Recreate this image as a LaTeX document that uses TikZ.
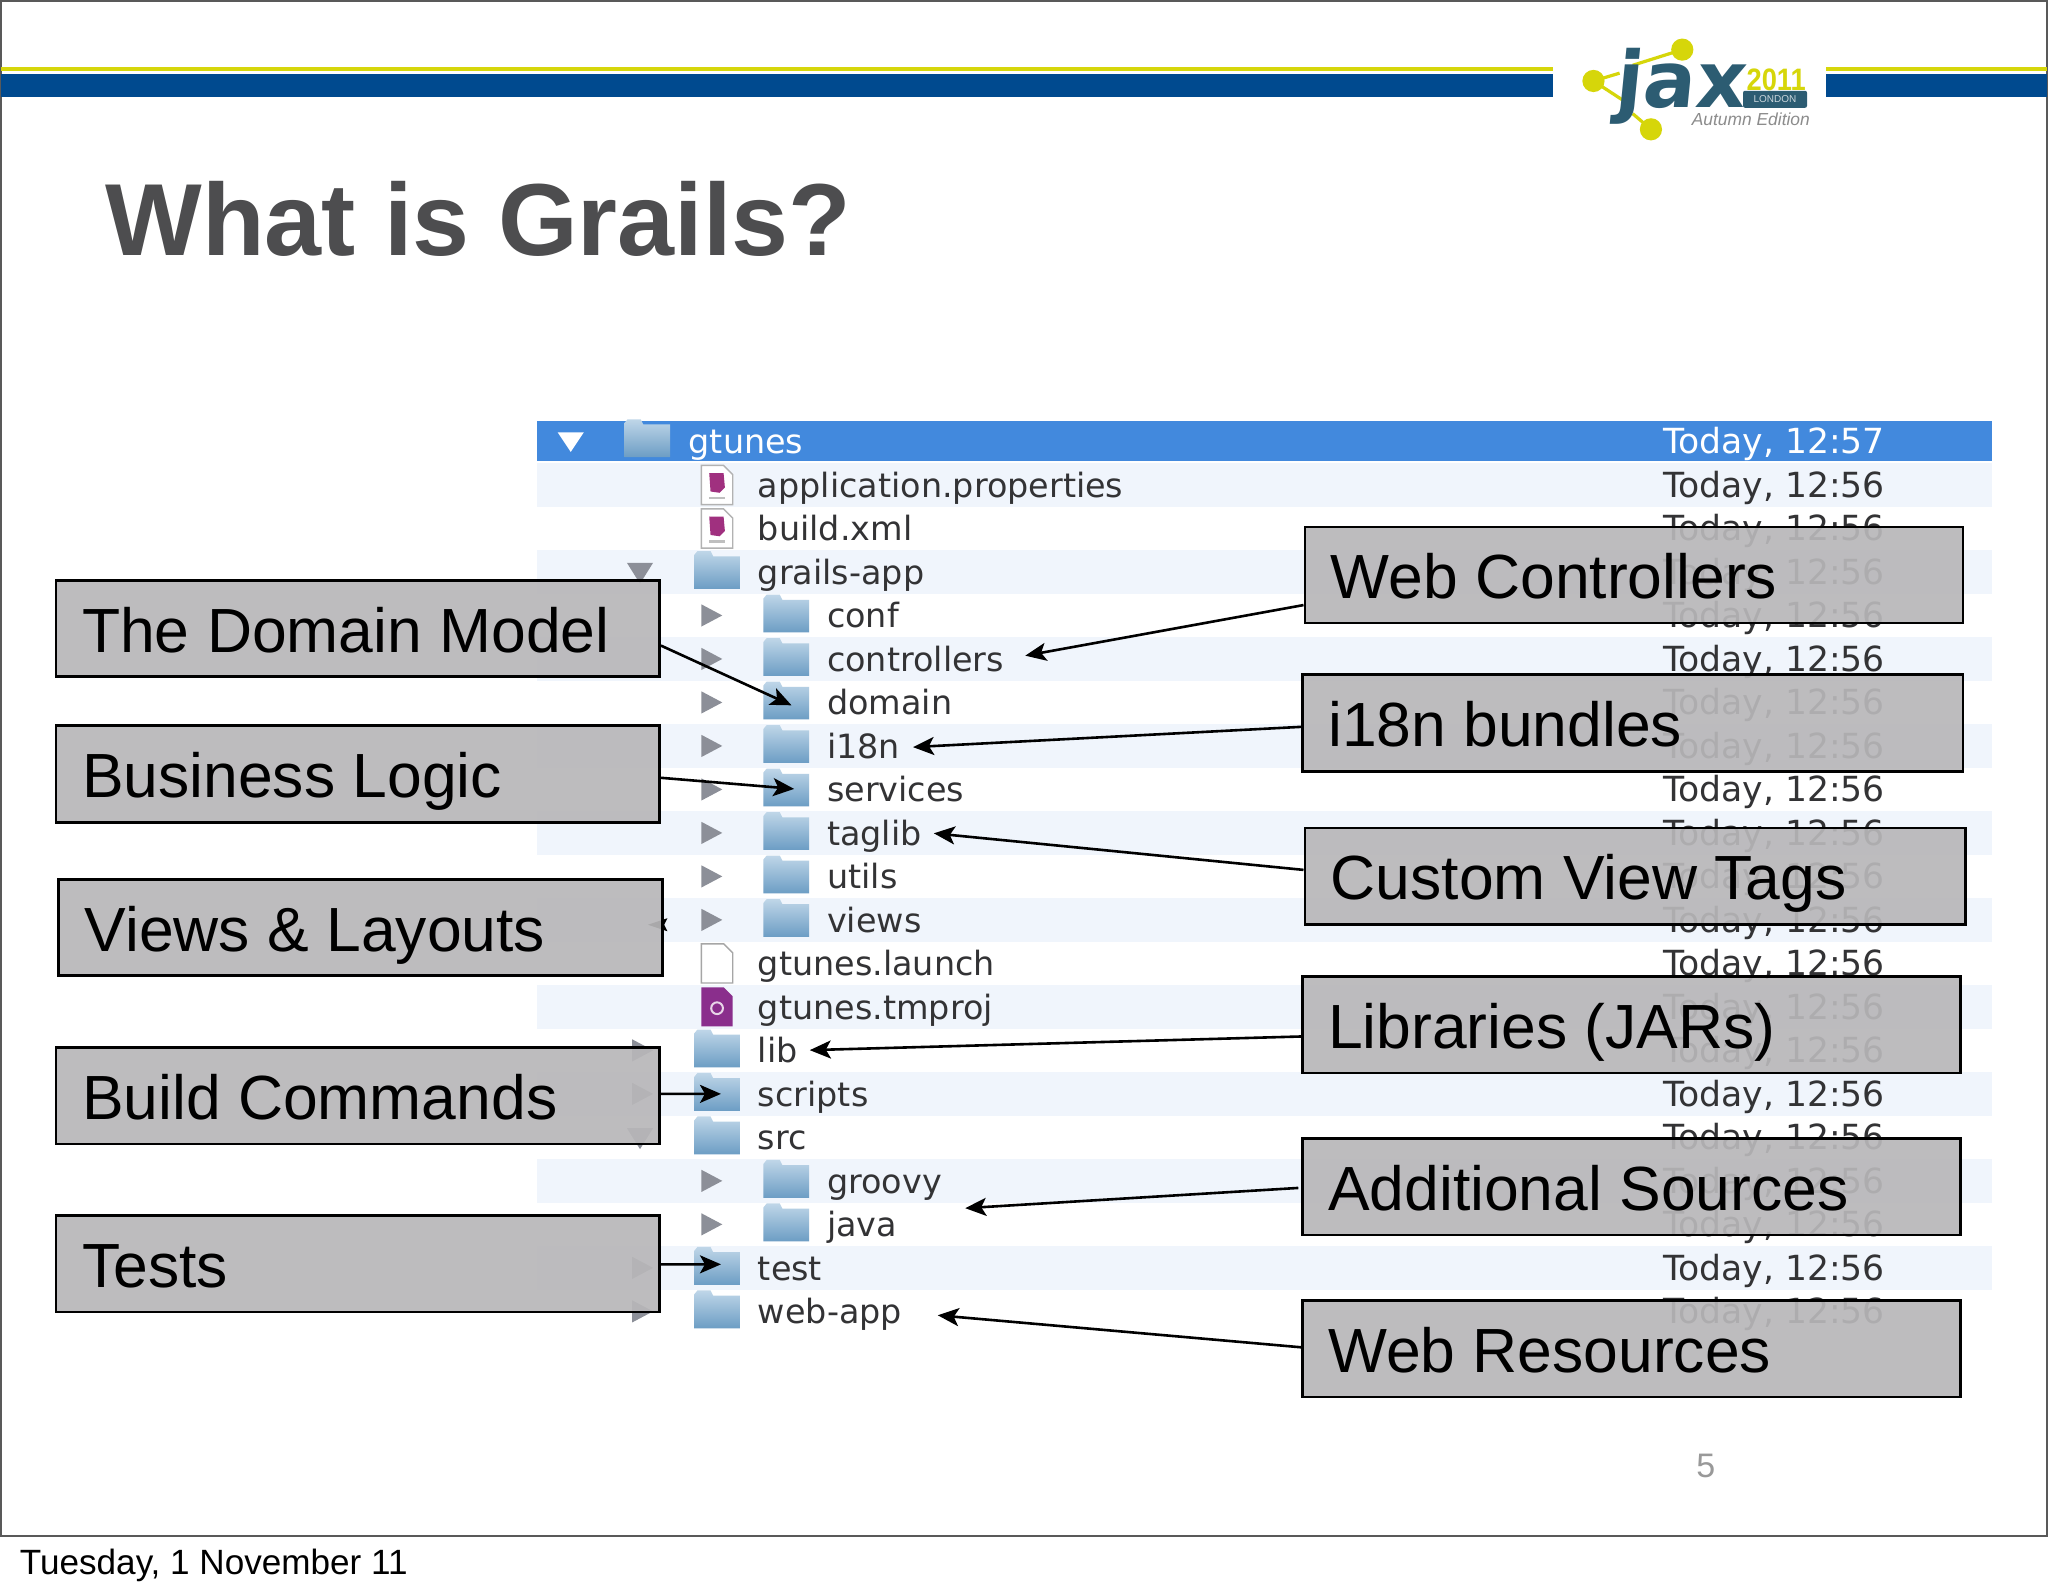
\documentclass[tikz,border=0pt]{standalone}
\usepackage{fontspec}
\setmainfont{Liberation Sans}
\newfontfamily\treefont{DejaVu Sans}
\newfontfamily\logofont{DejaVu Sans}
\usetikzlibrary{arrows.meta}
\definecolor{barblue}{HTML}{004A8F}
\definecolor{baryel}{HTML}{D6D60A}
\definecolor{selblue}{HTML}{4289DD}
\definecolor{stripe}{HTML}{F0F5FC}
\definecolor{boxgray}{HTML}{B8B7B9}
\definecolor{titlegray}{HTML}{4D4D4F}
\definecolor{treetxt}{HTML}{333335}
\definecolor{tri}{HTML}{8C8F98}
\definecolor{logoteal}{HTML}{2C5C72}
\definecolor{foldertop}{HTML}{BFD6E8}
\definecolor{folderlow}{HTML}{6C9DC4}
\definecolor{pinkfile}{HTML}{A0307F}
\definecolor{purplefile}{HTML}{8A2E8C}
\tikzset{
  boxlab/.style={draw=black,line width=1.3pt,fill=boxgray,fill opacity=0.92,text opacity=1,draw opacity=1,
    inner xsep=13pt,inner ysep=0pt,align=left,text height=25.3pt,text depth=1.8pt,
    font=\fontsize{31.2pt}{36pt}\selectfont,text=black},
  arr/.style={line width=1.3pt,draw=black,-{Stealth[length=10.5pt,width=9pt,inset=2.5pt]}},
  treetext/.style={anchor=base west,inner sep=0pt,font=\treefont\fontsize{16.7pt}{20pt}\selectfont,text=treetxt},
  datetext/.style={anchor=base west,inner sep=0pt,font=\treefont\fontsize{17.3pt}{20pt}\selectfont,text=treetxt},
  pics/folderic/.style={code={
    \path[top color=foldertop,bottom color=folderlow]
      (-17.5,13) -- (-17.5,-13) -- (-15,-16) -- (-5,-16) -- (-3,-12) -- (17.5,-12) -- (17.5,13) -- cycle;
  }},
  pics/pageic/.style={code={
    \path[fill=white,draw=black!35,line width=0.7pt]
      (-12,15) -- (-12,-15) -- (5,-15) -- (12,-8) -- (12,15) -- cycle;
  }},
  pics/pinkic/.style={code={
    \path[fill=white,draw=black!30,line width=0.7pt]
      (-12,15) -- (-12,-15) -- (5,-15) -- (12,-8) -- (12,15) -- cycle;
    \path[fill=pinkfile] (-6,-9) -- (5,-9) -- (6,2) -- (2,6) -- (-5,5) -- cycle;
    \path[fill=black!25] (-6,9) rectangle (6,11);
  }},
  pics/purpleic/.style={code={
    \path[fill=purplefile] (-12,15) -- (-12,-15) -- (5,-15) -- (12,-8) -- (12,15) -- cycle;
    \path[draw=white!80!purplefile,line width=1pt] (0,1) circle (4.5);
  }},
}
\newcommand{\labbox}[6]{%
  \pgfmathsetmacro{\lbw}{(#4-#2)*0.653}%
  \pgfmathsetmacro{\lbh}{(#5-#3)*0.653}%
  \pgfmathsetmacro{\lbt}{(#4-#2)*0.653-26}%
  \node[boxlab,text width=\lbt pt,minimum width=\lbw pt,minimum height=\lbh pt] (#1) at ({(#2+#4)/2},{(#3+#5)/2}) {\spaceskip=8.7pt\relax #6};%
}
\begin{document}
\begin{tikzpicture}[x=0.653pt,y=-0.653pt]
\useasboundingbox (0,0) rectangle (1568,1219.7);
\fill[white] (0,0) rectangle (1568,1219.7);
% slide frame
\draw[draw=black!65,line width=0.9pt] (0.5,0.7) rectangle (1567.4,1176);
% header bars
\fill[baryel] (1,51.5) rectangle (1189,54);
\fill[baryel] (1398,51.5) rectangle (1567,54);
\fill[barblue] (1,57) rectangle (1189,74);
\fill[barblue] (1398,57) rectangle (1567,74);
% logo
\draw[baryel,line width=1.6pt] (1288,38) -- (1250,50);
\draw[baryel,line width=1.6pt] (1220,62) -- (1240,56);
\draw[baryel,line width=1.6pt] (1220,62) -- (1246,79);
\draw[baryel,line width=1.6pt] (1264,99) -- (1250,87);
\fill[baryel] (1288,38) circle (8.5);
\fill[baryel] (1220,62) circle (8.5);
\fill[baryel] (1264,99) circle (8.5);
\node[anchor=base west,inner sep=0pt,text=logoteal,xslant=0.1,font=\logofont\bfseries\fontsize{39pt}{40pt}\selectfont] (jax) at (1236,82) {jax};
\node[anchor=base west,inner sep=0pt,text=baryel,font=\bfseries\fontsize{15.5pt}{16pt}\selectfont,xscale=0.88] (yr) at (1337,69) {2011};
\node[anchor=center,fill=logoteal,rounded corners=1pt,minimum width=32pt,minimum height=8.5pt,inner sep=0pt,text=white!75!logoteal,font=\fontsize{5pt}{6pt}\selectfont] (ldn) at (1359,76) {LONDON};
\node[anchor=base west,inner sep=0pt,text=black!45,font=\itshape\fontsize{8.7pt}{9pt}\selectfont] (aut) at (1295,96) {Autumn Edition};
% title
\node[anchor=base west,inner sep=0pt,text=titlegray,font=\bfseries\fontsize{51.2pt}{56pt}\selectfont] (title) at (80.5,195.5) {What is Grails?};
% table stripes
\foreach \i in {1,3,...,19}{
  \fill[stripe] (411.5,{338+33.3*\i-16.6}) rectangle (1525,{338+33.3*\i+16.6});
}
\fill[selblue] (411.5,322) rectangle (1525,353);
% disclosure triangles
\fill[white] (427,331) -- (447,331) -- (437,346) -- cycle;
\foreach \i in {4,...,11,17,18}{
  \fill[tri] (537,{338+33.3*\i-8.5}) -- (553,{338+33.3*\i}) -- (537,{338+33.3*\i+8.5}) -- cycle;
}
\foreach \i in {14,15,19,20}{
  \fill[tri] (484,{338+33.3*\i-8.5}) -- (500,{338+33.3*\i}) -- (484,{338+33.3*\i+8.5}) -- cycle;
}
\foreach \i in {3,16}{
  \fill[tri] (480,{338+33.3*\i-7}) -- (500,{338+33.3*\i-7}) -- (490,{338+33.3*\i+9}) -- cycle;
}
% icons
\pic at (495.5,337) {folderic};
\foreach \i in {3,14,15,16,19,20}{ \pic at (549,{338+33.3*\i}) {folderic}; }
\foreach \i in {4,...,11,17,18}{ \pic at (602,{338+33.3*\i}) {folderic}; }
\pic at (549,371.3) {pinkic};
\pic at (549,404.6) {pinkic};
\pic at (549,737.6) {pageic};
\pic at (549,770.9) {purpleic};
% row texts
\node[treetext,text=white] (row0) at (527,347.5) {gtunes};
\foreach \i/\x/\t in {1/580/application.properties,2/580/build.xml,3/580/grails-app,4/633/conf,5/633/controllers,6/633/domain,7/633/i18n,8/633/services,9/633/taglib,10/633/utils,11/633/views,12/580/gtunes.launch,13/580/gtunes.tmproj,14/580/lib,15/580/scripts,16/580/src,17/633/groovy,18/633/java,19/580/test,20/580/web-app}{
  \node[treetext] (row\i) at (\x,{347.5+33.3*\i}) {\t};
}
\node[datetext,text=white] (date0) at (1273,347.5) {Today, 12:57};
\foreach \i in {1,...,20}{
  \node[datetext] (date\i) at (1273,{347.5+33.3*\i}) {Today, 12:56};
}
% arrow ends
\coordinate (tdomain) at (606,540);
\coordinate (tservices) at (608,604);
\coordinate (tcontrollers) at (785,502);
\coordinate (ti18n) at (699,572);
\coordinate (ttaglib) at (715,638);
\coordinate (tlib) at (620,804);
\coordinate (tsrc) at (739,925);
\coordinate (twebapp) at (718,1007);
\coordinate (tscripts) at (552,837.5);
\coordinate (ttest) at (552,968);
% arrowhead lying behind the Views box
\fill[black] (496,708) -- (511,703) -- (508.5,708) -- (511,713) -- cycle;
% label boxes
\labbox{bdomain}{43}{444.5}{505}{518}{The Domain Model}
\labbox{blogic}{43}{555.5}{505}{629.5}{Business Logic}
\labbox{bviews}{45}{673.5}{507}{747}{Views \& Layouts}
\labbox{bbuild}{43}{802}{505}{876}{Build Commands}
\labbox{btests}{43}{930.5}{505}{1004.5}{Tests}
\labbox{bweb}{999}{403.5}{1503}{477}{Web Controllers}
\labbox{bi18n}{997}{516.5}{1503}{590.5}{i18n bundles}
\labbox{bcustom}{999}{634}{1505}{708}{Custom View Tags}
\labbox{blibs}{997}{747.5}{1501}{821.5}{Libraries (JARs)}
\labbox{bsrc}{997}{871.5}{1501}{945.5}{Additional Sources}
\labbox{bres}{997}{995.5}{1501}{1069.5}{Web Resources}
% connectors
\draw[arr] (bdomain.east) ++(0,13) -- (tdomain);
\draw[arr] (blogic.east) ++(0,3) -- (tservices);
\draw[arr] (bweb.west) ++(0,23) -- (tcontrollers);
\draw[arr] (bi18n.west) ++(0,3) -- (ti18n);
\draw[arr] (bcustom.west) ++(0,-5) -- (ttaglib);
\draw[arr] (blibs.west) ++(2,9) -- (tlib);
\draw[arr] (bsrc.west) ++(-2,1) -- (tsrc);
\draw[arr] (bres.west) ++(0,-1) -- (twebapp);
\draw[arr] (bbuild.east) ++(0,-1.5) -- (tscripts);
\draw[arr] (btests.east) ++(0,0.5) -- (ttest);
% page number and footer
\node[anchor=base,inner sep=0pt,text=black!40,font=\fontsize{17pt}{20pt}\selectfont] (pageno) at (1306,1131) {5};
\node[anchor=base west,inner sep=0pt,text=black,font=\fontsize{17.55pt}{20pt}\selectfont] (foot) at (15,1205.5) {Tuesday, 1 November 11};
\end{tikzpicture}
\end{document}
